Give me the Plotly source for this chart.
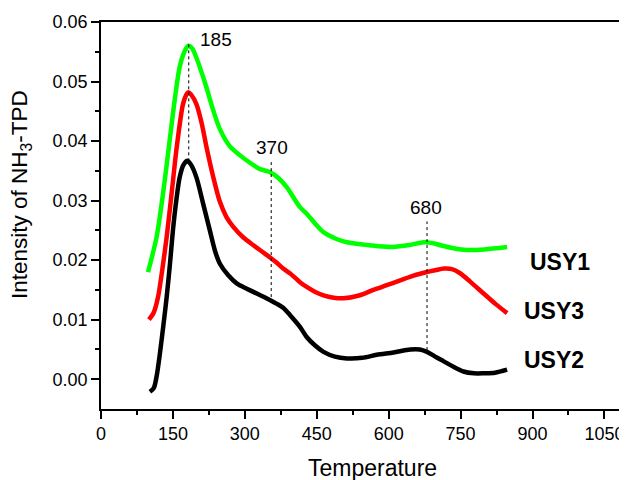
import plotly.graph_objects as go

# ---- data ----
usy1_T = [98, 116, 133, 150, 164, 174, 182, 190, 199, 210, 220, 234, 248, 268, 290, 310, 331, 352, 370, 387,
          415, 429, 446, 464, 490, 513, 560, 603, 640, 673, 690, 708, 735, 763, 800, 847]
usy1_I = [0.0180, 0.0239, 0.0334, 0.0446, 0.0524, 0.0550, 0.0560, 0.0556, 0.0540, 0.0515, 0.0490, 0.0452,
          0.0420, 0.0392, 0.0376, 0.0364, 0.0353, 0.0348, 0.0338, 0.0323, 0.0289, 0.0278, 0.0262, 0.0247,
          0.0236, 0.0230, 0.0225, 0.0222, 0.0225, 0.0230, 0.0229, 0.0225, 0.0220, 0.0217, 0.0218, 0.0222]

usy3_T = [100, 110, 119, 128, 137, 147, 158, 171, 178, 182, 188, 199, 210, 220, 234, 248, 262, 276, 297, 318,
          335, 352, 366, 380, 394, 415, 429, 446, 464, 485, 506, 540, 568, 596, 624, 652, 680, 697, 715, 732,
          749, 770, 798, 822, 847]
usy3_I = [0.0100, 0.0112, 0.0138, 0.0185, 0.0239, 0.0310, 0.0390, 0.0462, 0.0478, 0.0482, 0.0478, 0.0462,
          0.0430, 0.0390, 0.0340, 0.0298, 0.0272, 0.0256, 0.0238, 0.0225, 0.0215, 0.0205, 0.0196, 0.0186,
          0.0178, 0.0163, 0.0155, 0.0147, 0.0141, 0.0137, 0.0136, 0.0141, 0.0150, 0.0158, 0.0166, 0.0174,
          0.0180, 0.0183, 0.0186, 0.0185, 0.0178, 0.0164, 0.0144, 0.0127, 0.0111]

usy2_T = [102, 110, 116, 123, 130, 137, 144, 150, 157, 164, 172, 180, 188, 199, 213, 227, 238, 248, 265, 283,
          304, 325, 345, 366, 380, 394, 415, 429, 446, 464, 488, 513, 545, 575, 610, 645, 665, 680, 697, 715,
          735, 756, 778, 798, 822, 847]
usy2_I = [-0.0021, -0.0015, 0.0005, 0.0044, 0.0090, 0.0138, 0.0195, 0.0250, 0.0300, 0.0339, 0.0360, 0.0367,
          0.0360, 0.0339, 0.0295, 0.0250, 0.0215, 0.0194, 0.0175, 0.0161, 0.0152, 0.0144, 0.0136, 0.0127,
          0.0120, 0.0108, 0.0088, 0.0071, 0.0057, 0.0046, 0.0038, 0.0035, 0.0036, 0.0041, 0.0045, 0.0050,
          0.0050, 0.0046, 0.0038, 0.0030, 0.0021, 0.0013, 0.0010, 0.0010, 0.0011, 0.0016]

# peak marker lines: label, x position, y from, y to, label x, label y
peak_labels = ["185", "370", "680"]
peak_x = [183, 355, 680]
peak_y0 = [0.0366, 0.0138, 0.0049]
peak_y1 = [0.0564, 0.0367, 0.0265]
peak_lx = [240, 357, 677]
peak_ly = [0.0571, 0.0389, 0.0288]

series_names = ["USY1", "USY3", "USY2"]
series_lx = [957, 944, 944]
series_ly = [0.0197, 0.0114, 0.0032]

x_ticks = [0, 150, 300, 450, 600, 750, 900, 1050]
y_ticks = [0, 0.01, 0.02, 0.03, 0.04, 0.05, 0.06]
y_ticktext = ["0.00", "0.01", "0.02", "0.03", "0.04", "0.05", "0.06"]

FONT = "Liberation Sans, Arial, Helvetica, sans-serif"

# page body has an 8px default margin; size the figure to fit the window
W, H = 619, 472
ML, MR, MT, MB = 93, 1, 14, 71
PW, PH = W - ML - MR, H - MT - MB


def px2paper(sx, sy):
    fx, fy = sx - 8, sy - 8
    return (fx - ML) / PW, (H - MB - fy) / PH


fig = go.Figure()
for T, I, c, n in [(usy1_T, usy1_I, "#00ff00", "USY1"),
                   (usy3_T, usy3_I, "#ff0000", "USY3"),
                   (usy2_T, usy2_I, "#000000", "USY2")]:
    fig.add_trace(go.Scatter(x=T, y=I, mode="lines", name=n,
                             line=dict(color=c, width=4.5, shape="spline", smoothing=0.8)))

for lab, x, y0, y1, lx, ly in zip(peak_labels, peak_x, peak_y0, peak_y1, peak_lx, peak_ly):
    fig.add_shape(type="line", x0=x, x1=x, y0=y0, y1=y1, xref="x", yref="y",
                  line=dict(color="black", width=1, dash="dot"))
    fig.add_annotation(x=lx, y=ly, text=lab, showarrow=False, xref="x", yref="y",
                       xanchor="center", yanchor="middle",
                       font=dict(family=FONT, size=19, color="black"))

for n, lx, ly in zip(series_names, series_lx, series_ly):
    fig.add_annotation(x=lx, y=ly, text="<b>" + n + "</b>", showarrow=False, xref="x", yref="y",
                       xanchor="center", yanchor="middle",
                       font=dict(family=FONT, size=23, color="black"))

ax, ay = px2paper(21, 194)
fig.add_annotation(x=ax, y=ay, xref="paper", yref="paper", textangle=-90,
                   xanchor="center", yanchor="middle",
                   text="Intensity of NH<sub>3</sub>-TPD", showarrow=False,
                   font=dict(family=FONT, size=22.5, color="black"))

tx, ty = px2paper(372, 468)
fig.add_annotation(x=tx, y=ty, xref="paper", yref="paper",
                   xanchor="center", yanchor="middle",
                   text="Temperature", showarrow=False,
                   font=dict(family=FONT, size=23, color="black"))

fig.update_layout(
    width=W, height=H,
    margin=dict(l=ML, r=MR, t=MT, b=MB),
    plot_bgcolor="white", paper_bgcolor="white",
    showlegend=False,
    font=dict(family=FONT, size=18, color="black"),
)

fig.update_xaxes(range=[0, 1095], tickvals=x_ticks, automargin=False,
                 ticks="outside", ticklen=8, tickwidth=1.5, tickcolor="black",
                 minor=dict(tickvals=[75, 225, 375, 525, 675, 825, 975], ticks="outside",
                            ticklen=4, tickwidth=1.5, tickcolor="black"),
                 showline=True, linecolor="black", linewidth=1.5, mirror=True,
                 showgrid=False, zeroline=False, tickfont=dict(size=18))
fig.update_yaxes(range=[-0.005, 0.06], tickvals=y_ticks, ticktext=y_ticktext, automargin=False,
                 ticks="outside", ticklen=8, tickwidth=1.5, tickcolor="black",
                 minor=dict(tickvals=[0.005, 0.015, 0.025, 0.035, 0.045, 0.055], ticks="outside",
                            ticklen=4, tickwidth=1.5, tickcolor="black"),
                 showline=True, linecolor="black", linewidth=1.5, mirror=True,
                 showgrid=False, zeroline=False, tickfont=dict(size=18))

fig.write_html("out.html")
